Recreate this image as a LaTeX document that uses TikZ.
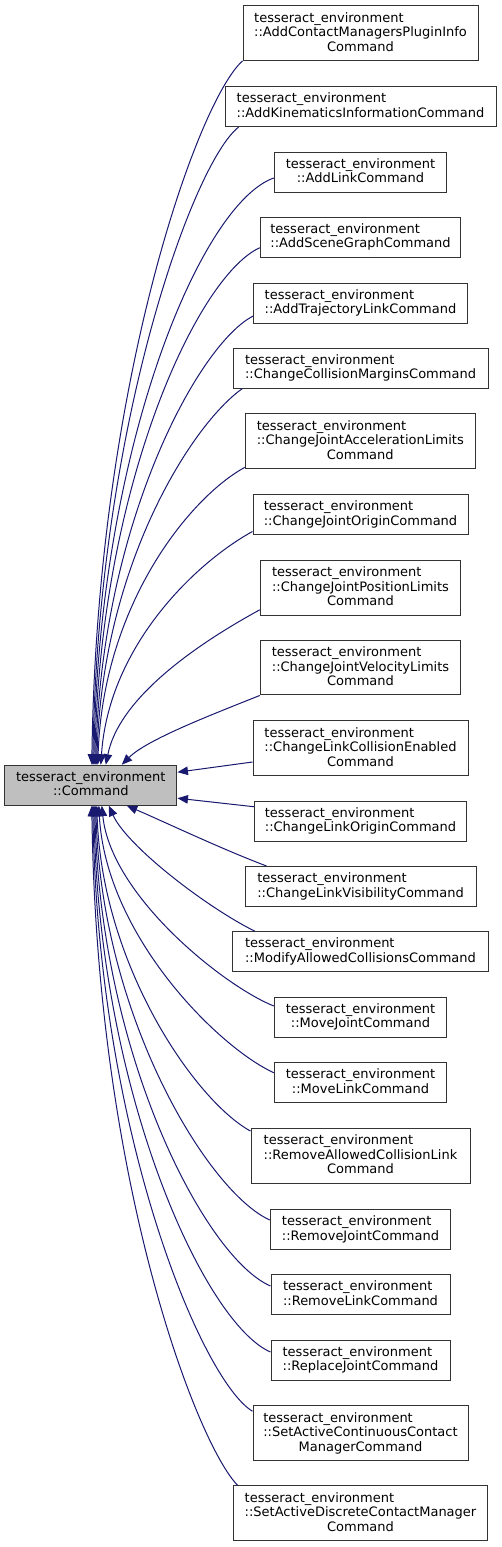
\documentclass[tikz,border=0pt]{standalone}
\usepackage{fontspec}
\setmainfont{DejaVu Sans}
\usetikzlibrary{arrows.meta,calc}
\definecolor{edgeblue}{HTML}{191970}
\definecolor{mainfill}{HTML}{BFBFBF}
\definecolor{boxline}{HTML}{333333}
\newlength\lwA
\newlength\lwB
\newlength\lwC
\newcommand\labtwo[2]{%
  \settowidth\lwA{#1}\settowidth\lwB{#2}%
  \ifdim\lwB>\lwA \lwA=\lwB\fi
  \vbox{\baselineskip=14.5pt\lineskiplimit=-100pt
    \hbox to\lwA{\rule{0pt}{10pt}#1\hfil}%
    \hbox to\lwA{\hfil\rule[-3pt]{0pt}{3pt}#2\hfil}}}
\newcommand\labthree[3]{%
  \settowidth\lwA{#1}\settowidth\lwB{#2}\settowidth\lwC{#3}%
  \ifdim\lwB>\lwA \lwA=\lwB\fi
  \ifdim\lwC>\lwA \lwA=\lwC\fi
  \vbox{\baselineskip=14.5pt\lineskiplimit=-100pt
    \hbox to\lwA{\rule{0pt}{10pt}#1\hfil}%
    \hbox to\lwA{#2\hfil}%
    \hbox to\lwA{\hfil\rule[-3pt]{0pt}{3pt}#3\hfil}}}
\begin{document}
\begin{tikzpicture}[x=1pt,y=-1pt,
  cls/.style={draw=boxline, line width=1pt, fill=white, rectangle,
    inner xsep=0pt, inner ysep=0pt, font=\fontsize{13}{14.5}\selectfont},
  two/.style={cls, minimum height=40pt},
  three/.style={cls, minimum height=54.5pt},
  edge/.style={draw=edgeblue, line width=1pt,
    -{Triangle[length=10.5pt,width=8.5pt]}}]
\fill[white] (0,0) rectangle (501,1547);
\useasboundingbox (0,0) rectangle (501,1547);

\node[two, fill=mainfill, minimum width=172.3pt] (main) at (90.8,785.2)
  {\labtwo{tesseract\_environment}{::Command}};

\node[three, minimum width=235pt] (n1) at (360.5,33.2)
  {\labthree{tesseract\_environment}{::AddContactManagersPluginInfo}{Command}};
\node[two, minimum width=271pt] (n2) at (360.5,106.7)
  {\labtwo{tesseract\_environment}{::AddKinematicsInformationCommand}};
\node[two, minimum width=172.4pt] (n3) at (360.5,172)
  {\labtwo{tesseract\_environment}{::AddLinkCommand}};
\node[two, minimum width=200.4pt] (n4) at (360.5,237.2)
  {\labtwo{tesseract\_environment}{::AddSceneGraphCommand}};
\node[two, minimum width=213.6pt] (n5) at (360.5,303)
  {\labtwo{tesseract\_environment}{::AddTrajectoryLinkCommand}};
\node[two, minimum width=255pt] (n6) at (360.5,368)
  {\labtwo{tesseract\_environment}{::ChangeCollisionMarginsCommand}};
\node[three, minimum width=230pt] (n7) at (360.3,441.2)
  {\labthree{tesseract\_environment}{::ChangeJointAccelerationLimits}{Command}};
\node[two, minimum width=215pt] (n8) at (360.5,514.5)
  {\labtwo{tesseract\_environment}{::ChangeJointOriginCommand}};
\node[three, minimum width=200.4pt] (n9) at (360.5,587.8)
  {\labthree{tesseract\_environment}{::ChangeJointPositionLimits}{Command}};
\node[three, minimum width=200.4pt] (n10) at (360.5,667.7)
  {\labthree{tesseract\_environment}{::ChangeJointVelocityLimits}{Command}};
\node[three, minimum width=215pt] (n11) at (360.5,748)
  {\labthree{tesseract\_environment}{::ChangeLinkCollisionEnabled}{Command}};
\node[two, minimum width=212.4pt] (n12) at (360.5,821)
  {\labtwo{tesseract\_environment}{::ChangeLinkOriginCommand}};
\node[two, minimum width=231pt] (n13) at (360.5,886.5)
  {\labtwo{tesseract\_environment}{::ChangeLinkVisibilityCommand}};
\node[two, minimum width=256.4pt] (n14) at (360.5,951.7)
  {\labtwo{tesseract\_environment}{::ModifyAllowedCollisionsCommand}};
\node[two, minimum width=172.4pt] (n15) at (360.5,1017)
  {\labtwo{tesseract\_environment}{::MoveJointCommand}};
\node[two, minimum width=172.4pt] (n16) at (360.5,1082.3)
  {\labtwo{tesseract\_environment}{::MoveLinkCommand}};
\node[three, minimum width=219pt] (n17) at (360.5,1155.8)
  {\labthree{tesseract\_environment}{::RemoveAllowedCollisionLink}{Command}};
\node[two, minimum width=180.4pt] (n18) at (360.5,1229.3)
  {\labtwo{tesseract\_environment}{::RemoveJointCommand}};
\node[two, minimum width=179pt] (n19) at (360.5,1294.7)
  {\labtwo{tesseract\_environment}{::RemoveLinkCommand}};
\node[two, minimum width=179pt] (n20) at (360.5,1360)
  {\labtwo{tesseract\_environment}{::ReplaceJointCommand}};
\node[three, minimum width=215pt] (n21) at (360.5,1433)
  {\labthree{tesseract\_environment}{::SetActiveContinuousContact}{ManagerCommand}};
\node[three, minimum width=253.6pt] (n22) at (360.5,1513.2)
  {\labthree{tesseract\_environment}{::SetActiveDiscreteContactManager}{Command}};

% edges arriving on the top of the base class
\draw[edge] (n1.south west) .. controls +(-45,40) and +(5,-380) .. ($(main.north)+(1,0)$);
\draw[edge] ($(n2.south west)+(14,0)$) .. controls +(-45,35) and +(5,-340) .. ($(main.north)+(2,0)$);
\draw[edge] ($(n3.west)+(0,6)$) .. controls +(-72,25) and +(5,-320) .. ($(main.north)+(3,0)$);
\draw[edge] ($(n4.west)+(0,10.5)$) .. controls +(-62,28) and +(5,-280) .. ($(main.north)+(4,0)$);
\draw[edge] ($(n5.west)+(0,13)$) .. controls +(-55,28) and +(5,-240) .. ($(main.north)+(5,0)$);
\draw[edge] ($(n6.south west)+(10,0)$) .. controls +(-50,35) and +(5,-200) .. ($(main.north)+(6,0)$);
\draw[edge] ($(n7.south west)+(0,-1.6)$) .. controls +(-55,30) and +(5,-160) .. ($(main.north)+(7,0)$);
\draw[edge] ($(n8.west)+(0,17)$) .. controls +(-55,30) and +(8,-120) .. ($(main.north)+(10,0)$);
\draw[edge] ($(n9.west)+(0,22)$) .. controls +(-55,30) and +(14,-70) .. ($(main.north)+(15,0)$);
\draw[edge] (n10.south west) .. controls +(-50,20) and +(25,-25) .. ($(main.north)+(31,0)$);
% edges arriving on the right side
\draw[edge] ($(n11.west)+(0,14)$) -- ($(main.east)+(0,-13)$);
\draw[edge] ($(n12.west)+(0,-14.3)$) -- ($(main.east)+(0,13)$);
% edges arriving on the bottom
\draw[edge] ($(n13.north west)+(22,0)$) .. controls +(-45,-17) and +(35,15) .. ($(main.south)+(36,0)$);
\draw[edge] ($(n14.north west)+(23,0)$) .. controls +(-50,-25) and +(18,40) .. ($(main.south)+(18,0)$);
\draw[edge] ($(n15.west)+(0,-11)$) .. controls +(-50,-20) and +(9,90) .. ($(main.south)+(11,0)$);
\draw[edge] ($(n16.west)+(0,-9.6)$) .. controls +(-55,-25) and +(7,130) .. ($(main.south)+(8,0)$);
\draw[edge] ($(n17.north west)+(0,3)$) .. controls +(-55,-30) and +(5,160) .. ($(main.south)+(6,0)$);
\draw[edge] ($(n18.west)+(0,-9.3)$) .. controls +(-62,-28) and +(5,210) .. ($(main.south)+(5,0)$);
\draw[edge] ($(n19.west)+(0,-8.7)$) .. controls +(-65,-28) and +(5,250) .. ($(main.south)+(4,0)$);
\draw[edge] ($(n20.west)+(0,-8)$) .. controls +(-65,-28) and +(5,290) .. ($(main.south)+(3,0)$);
\draw[edge] ($(n21.north west)+(0,6)$) .. controls +(-50,-30) and +(5,330) .. ($(main.south)+(2,0)$);
\draw[edge] ($(n22.north west)+(4.6,0)$) .. controls +(-40,-40) and +(5,380) .. ($(main.south)+(1,0)$);
\end{tikzpicture}
\end{document}
